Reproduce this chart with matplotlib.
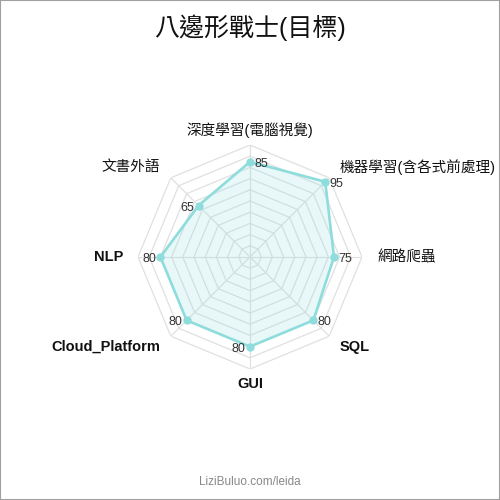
import matplotlib.pyplot as plt
import numpy as np
from matplotlib.patches import Rectangle

# ── Fonts: Latin from Liberation Sans, CJK falls back to Noto Sans CJK TC ───
FONTS = ["Liberation Sans", "Noto Sans CJK TC", "DejaVu Sans"]
plt.rcParams["font.family"] = FONTS

# ── Data ──────────────────────────────────────────────────────────────────
categories = ["深度學習(電腦視覺)", "機器學習(含各式前處理)", "網路爬蟲", "SQL",
              "GUI", "Cloud_Platform", "NLP", "文書外語"]
bold_labels = {"SQL", "GUI", "Cloud_Platform", "NLP"}
values = [85, 95, 75, 80, 80, 80, 80, 65]
r_max = 100
ring_levels = np.arange(10, 101, 10)

TITLE = "八邊形戰士(目標)"
FOOTER = "LiziBuluo.com/leida"

# ── Colors ────────────────────────────────────────────────────────────────
LINE_COLOR = "#8fdcdc"
GRID_COLOR = "#e0e0e0"

# ── Figure ────────────────────────────────────────────────────────────────
fig = plt.figure(figsize=(5, 5), dpi=100)
fig.patch.set_facecolor("white")
fig.patches.append(Rectangle((0, 0), 1, 1, transform=fig.transFigure,
                             fill=False, edgecolor="#a0a0a0", linewidth=1.5))

ax = fig.add_axes([0.5 - 0.224, 0.486 - 0.224, 0.448, 0.448], polar=True)
ax.set_theta_offset(np.pi / 2)
ax.set_theta_direction(-1)
ax.set_ylim(0, r_max)
ax.grid(False)
ax.set_xticks([])
ax.set_yticks([])
ax.spines["polar"].set_visible(False)
ax.set_facecolor("none")

n = len(categories)
angles = np.arange(n) * 2 * np.pi / n
closed_angles = np.append(angles, angles[0])

# Octagon rings and spokes
for lvl in ring_levels:
    ax.plot(closed_angles, [lvl] * (n + 1), color=GRID_COLOR, linewidth=0.9, zorder=1)
for a in angles:
    ax.plot([a, a], [0, r_max], color=GRID_COLOR, linewidth=0.9, zorder=1)

# Series
closed_values = values + values[:1]
ax.fill(closed_angles, closed_values, color=LINE_COLOR, alpha=0.2, zorder=2)
ax.plot(closed_angles, closed_values, color=LINE_COLOR, linewidth=1.9, zorder=3)
ax.plot(angles, values, "o", color=LINE_COLOR, markersize=5, zorder=4)

# Value labels next to each point
for a, v in zip(angles, values):
    right = np.degrees(a) < 179
    ax.annotate(str(v), xy=(a, v), xytext=(3 if right else -3, -1.5),
                textcoords="offset points", ha="left" if right else "right",
                va="center", fontsize=9, color="#333333", zorder=5)

# Category labels outside the outer ring
off = 10.8
for a, label in zip(angles, categories):
    dx, dy = off * np.sin(a), off * np.cos(a)
    if abs(dx) < 0.5:
        ha = "center"
    else:
        ha = "left" if dx > 0 else "right"
    ax.annotate(label, xy=(a, r_max), xytext=(dx, dy), textcoords="offset points",
                ha=ha, va="center", fontsize=10.5, color="#111111",
                fontweight="bold" if label in bold_labels else "normal",
                annotation_clip=False)

fig.text(0.5, 0.944, TITLE, ha="center", va="center", fontsize=18, color="#111111")
fig.text(0.5, 0.036, FOOTER, ha="center", va="center", fontsize=8.5, color="#888888")

fig.savefig("out.png", dpi=100, facecolor="white")
